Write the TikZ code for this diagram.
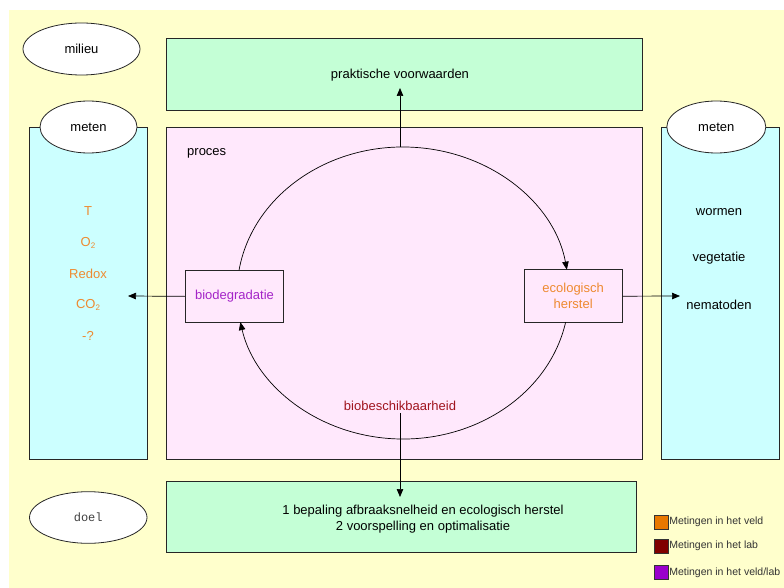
\documentclass[tikz,border=0pt]{standalone}
\usepackage{fontspec}
\setmainfont{Liberation Sans}
\setmonofont{Liberation Mono}
\usetikzlibrary{arrows.meta,calc,shapes.geometric}
\definecolor{bgyellow}{HTML}{FFFFCC}
\definecolor{boxgreen}{HTML}{C4FFD6}
\definecolor{boxpink}{HTML}{FFE8FC}
\definecolor{boxcyan}{HTML}{CCFFFF}
\definecolor{txtorange}{HTML}{EE8A30}
\definecolor{txtpurple}{HTML}{A424C8}
\definecolor{txtred}{HTML}{A0141E}
\definecolor{legorange}{HTML}{E87800}
\definecolor{legred}{HTML}{800000}
\definecolor{legpurple}{HTML}{9A00CC}
\begin{document}
\begin{tikzpicture}[x=1pt,y=-1pt,
  box/.style={draw=black!85, line width=0.8pt, rectangle, inner sep=0pt},
  ell/.style={draw=black!85, line width=0.8pt, ellipse, fill=white, inner sep=0pt, font=\fontsize{13}{15}\selectfont},
  txt/.style={font=\fontsize{13}{16}\selectfont, inner sep=2pt, align=center},
  conn/.style={draw=black, line width=0.7pt},
  arr/.style={conn, -{Triangle[length=8pt,width=6.5pt]}},
  legbox/.style={draw=black!80, line width=0.8pt, minimum size=14pt, inner sep=0pt},
  legtxt/.style={font=\fontsize{10.5}{12}\selectfont, text=black!80, anchor=west, inner sep=0.5pt}
]
\useasboundingbox (0,0) rectangle (784,588);
\fill[white] (0,0) rectangle (784,588);
\fill[bgyellow] (9,10) rectangle (784,588);

% boxes
\node[box, fill=boxgreen, minimum width=476pt, minimum height=71.5pt] (pv) at (404,74.25) {};
\node[txt] (ptxt) at (400,75) {praktische voorwaarden};
\node[box, fill=boxcyan, minimum width=117.5pt, minimum height=332.5pt] (lbox) at (88.25,293.25) {};
\node[box, fill=boxpink, minimum width=476pt, minimum height=332.5pt] (proc) at (404,293.25) {};
\node[box, fill=boxcyan, minimum width=118pt, minimum height=332.5pt] (rbox) at (720,293.25) {};
\node[box, fill=boxgreen, minimum width=470pt, minimum height=70.3pt] (doelbox) at (401,516.9) {};

% ellipses
\node[ell, minimum width=117pt, minimum height=52pt] (milieu) at (81.5,49) {milieu};
\node[ell, minimum width=97pt, minimum height=52pt] (lmeten) at (88.5,127) {meten};
\node[ell, minimum width=99pt, minimum height=52pt] (rmeten) at (716.3,127) {meten};
\node[ell, minimum width=117.5pt, minimum height=51.6pt, font=\ttfamily\fontsize{12}{14}\selectfont, text=black!75] (doel) at (88.25,517.5) {doel};

% texts
\node[txt, anchor=west] (proces) at (185,153) {proces};
\node[txt, text=txtorange] (tT) at (88,211) {T};
\node[txt, text=txtorange] (tO) at (88,243) {O\raisebox{-0.35ex}{\fontsize{8}{8}\selectfont 2}};
\node[txt, text=txtorange] (tR) at (88,273.5) {Redox};
\node[txt, text=txtorange] (tC) at (88,305) {CO\raisebox{-0.35ex}{\fontsize{8}{8}\selectfont 2}};
\node[txt, text=txtorange] (tQ) at (88,336) {-?};
\node[txt] (tw) at (719,211.7) {wormen};
\node[txt] (tv) at (719,258) {vegetatie};
\node[txt] (tn) at (719,305) {nematoden};
\node[txt, text=txtred] (bb) at (400,406) {biobeschikbaarheid};
\node[txt] (goal) at (423,518.8) {1 bepaling afbraaksnelheid en ecologisch herstel\\2 voorspelling en optimalisatie};

% process boxes
\node[box, fill=boxpink, minimum width=98.4pt, minimum height=52.7pt, txt, text=txtpurple] (bio) at (234.5,296.35) {biodegradatie};
\node[box, fill=boxpink, minimum width=98.3pt, minimum height=53pt, txt, text=txtorange] (eco) at (573.15,296.2) {ecologisch\\herstel};

% cycle
\coordinate (c) at (403,293);
\coordinate (etop) at (400,147);
\draw[arr] ($(c)+(171:166pt and 146pt)$) arc[start angle=171, end angle=9.2, x radius=166pt, y radius=146pt];
\draw[arr] ($(c)+(-11.5:166pt and 146pt)$) arc[start angle=-11.5, end angle=-168.5, x radius=166pt, y radius=146pt];

% connectors
\coordinate (ptip) at (400,88);
\coordinate (ltip) at (128,296);
\coordinate (rtip) at (680,296);
\coordinate (btip) at (400,497);
\draw[arr] (etop) -- (ptip);
\draw[arr] (bio.west) -- (ltip);
\draw[arr] (eco.east) -- (rtip);
\draw[arr] (bb.south) -- (btip);

% legend
\node[legbox, fill=legorange] (l1) at (661.2,522) {};
\node[legbox, fill=legred] (l2) at (661.2,546) {};
\node[legbox, fill=legpurple] (l3) at (661.2,572.7) {};
\node[legtxt] at (l1.east) {Metingen in het veld};
\node[legtxt] at (l2.east) {Metingen in het lab};
\node[legtxt] at (l3.east) {Metingen in het veld/lab};
\end{tikzpicture}
\end{document}
